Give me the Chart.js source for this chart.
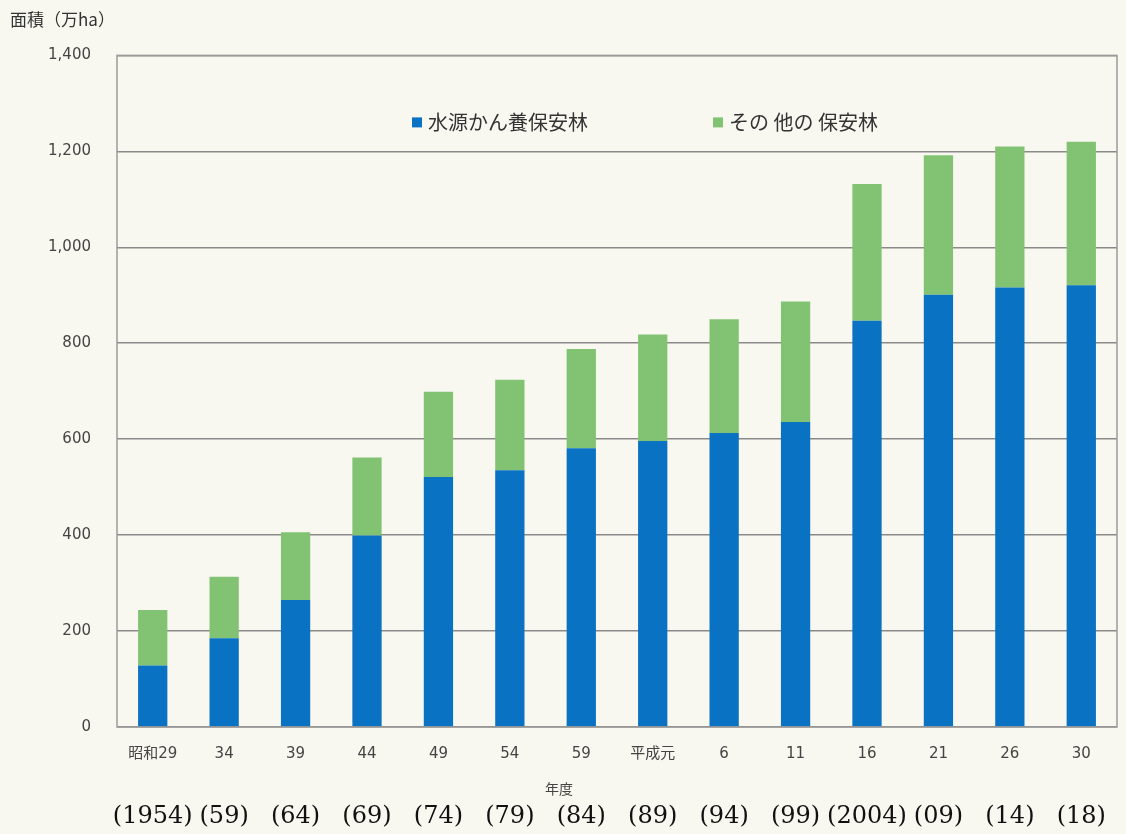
<!DOCTYPE html>
<html lang="ja">
<head>
<meta charset="utf-8">
<title>保安林面積の推移</title>
<script src="https://cdn.jsdelivr.net/npm/chart.js@4.4.1/dist/chart.umd.min.js"></script>
<style>
  html, body { margin: 0; padding: 0; background: #f8f8f0; }
  #wrap { width: 1126px; height: 834px; }
</style>
</head>
<body>
<div id="wrap"><canvas id="myChart"></canvas></div>
<script>
// 年度（和暦）と西暦
const eraLabels = ['昭和29', '34', '39', '44', '49', '54', '59', '平成元', '6', '11', '16', '21', '26', '30'];
const yearLabels = ['(1954)', '(59)', '(64)', '(69)', '(74)', '(79)', '(84)', '(89)', '(94)', '(99)', '(2004)', '(09)', '(14)', '(18)'];

// 面積（万ha）
const suigenValues = [128, 185, 265, 399, 521, 535, 581, 596, 613, 636, 847, 901, 916, 921];
const otherValues = [116, 128, 141, 163, 178, 189, 207, 222, 237, 251, 285, 291, 294, 299];

const yMax = 1400;
const yStep = 200;

const blue = '#0a72c2';
const green = '#82c373';

// frame, legend inside the plot and the 年度 caption
const overlay = {
    id: 'overlay',
    afterDraw(chart) {
        const { ctx, chartArea: a } = chart;
        ctx.save();
        ctx.strokeStyle = '#9a9a9a';
        ctx.lineWidth = 1.5;
        ctx.strokeRect(a.left, a.top, a.right - a.left, a.bottom - a.top);

        const legendX = [a.left + 295, a.left + 596];
        ctx.font = '20px "Noto Sans CJK JP"';
        ctx.textBaseline = 'middle';
        chart.data.datasets.forEach((ds, i) => {
            const x = legendX[i];
            const y = a.top + 67;
            ctx.fillStyle = ds.backgroundColor;
            ctx.fillRect(x, y - 5, 10, 10);
            ctx.fillStyle = '#333';
            ctx.fillText(ds.label, x + 16, y);
        });

        ctx.font = '14px "Noto Sans CJK JP"';
        ctx.textAlign = 'center';
        ctx.fillStyle = '#444';
        ctx.fillText('年度', a.left + 442, a.bottom + 62);
        ctx.restore();
    }
};

// keep the plot edges where the frame is, whatever the labels need
const noSidePadding = s => {
    s.paddingLeft = 0;
    s.paddingRight = 0;
};

const ctx = document.getElementById('myChart').getContext('2d');
new Chart(ctx, {
    type: 'bar',
    data: {
        labels: eraLabels,
        datasets: [{
            label: '水源かん養保安林',
            data: suigenValues,
            backgroundColor: blue,
            categoryPercentage: 1.0,
            barPercentage: 0.41
        }, {
            label: 'その 他の 保安林',
            data: otherValues,
            backgroundColor: green,
            categoryPercentage: 1.0,
            barPercentage: 0.41
        }]
    },
    options: {
        responsive: true,
        maintainAspectRatio: false,
        animation: false,
        layout: { padding: { left: 10, right: 9, top: 0, bottom: 3 } },
        plugins: {
            legend: { display: false },
            tooltip: { enabled: false },
            title: {
                display: true,
                text: '面積（万ha）',
                align: 'start',
                color: '#333',
                font: { family: 'Noto Sans CJK JP', size: 17, weight: 'normal' },
                padding: { top: 9, bottom: 26 }
            }
        },
        scales: {
            x: {
                stacked: true,
                grid: { display: false, drawTicks: false },
                border: { display: false },
                ticks: {
                    color: '#444',
                    font: { family: '"DejaVu Sans", "Noto Sans CJK JP"', size: 15 },
                    padding: 18,
                    maxRotation: 0,
                    autoSkip: false
                },
                afterFit: s => { s.height = 40; noSidePadding(s); }
            },
            x2: {
                type: 'category',
                labels: yearLabels,
                position: 'bottom',
                weight: 2,
                grid: { display: false, drawTicks: false },
                border: { display: false },
                ticks: {
                    color: '#111',
                    font: { family: 'DejaVu Serif', size: 24 },
                    padding: 35,
                    maxRotation: 0,
                    autoSkip: false
                },
                afterFit: s => { s.height = 64; noSidePadding(s); }
            },
            y: {
                stacked: true,
                min: 0,
                max: yMax,
                grid: { color: '#8a8a8a', lineWidth: 1.5, drawTicks: false },
                border: { display: false },
                ticks: {
                    stepSize: yStep,
                    padding: 26,
                    color: '#444',
                    font: { family: 'DejaVu Sans', size: 15 },
                    callback: v => v.toLocaleString('en-US')
                },
                afterFit: s => { s.width = 107; }
            }
        }
    },
    plugins: [overlay]
});
</script>
</body>
</html>
